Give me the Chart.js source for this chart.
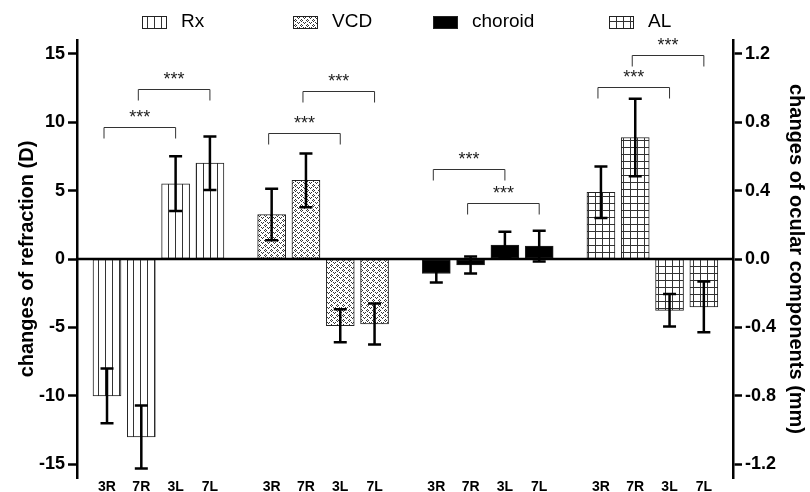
<!DOCTYPE html>
<html>
<head>
<meta charset="utf-8">
<script src="https://cdn.jsdelivr.net/npm/chart.js@4"></script>
<style>
  html, body { margin: 0; padding: 0; background: #fff; }
</style>
</head>
<body>
<canvas id="grafico" width="810" height="492"></canvas>
<script>
// bars in each group
const barLabels = ['3R', '7R', '3L', '7L'];
const seriesNames = ['Rx', 'VCD', 'choroid', 'AL'];

// Rx in D (left axis), the others in mm (right axis)
const rxValues = [-10, -13, 5.5, 7];
const rxSD = [2, 2.3, 2, 1.95];
const vcdValues = [0.26, 0.46, -0.39, -0.38];
const vcdSD = [0.15, 0.157, 0.096, 0.12];
const choroidValues = [-0.085, -0.035, 0.082, 0.075];
const choroidSD = [0.053, 0.05, 0.078, 0.09];
const alValues = [0.39, 0.71, -0.30, -0.28];
const alSD = [0.15, 0.227, 0.095, 0.148];

const leftTicks = [-15, -10, -5, 0, 5, 10, 15];
const rightTicks = [-1.2, -0.8, -0.4, 0, 0.4, 0.8, 1.2];

// *** brackets: [from bar, to bar, height in D on the left axis]
const rxBrackets = [[0, 2, 9.66], [1, 3, 12.44]];
const vcdBrackets = [[0, 2, 9.22], [1, 3, 12.29]];
const choroidBrackets = [[0, 2, 6.58], [1, 3, 4.10]];
const alBrackets = [[0, 2, 12.58], [1, 3, 14.92]];

const FONT = "'Liberation Sans', Arial, sans-serif";
const GROUP_STEP = 4.8;

function pos(g, i) { return g * GROUP_STEP + i; }
function toPoints(g, vals) { return vals.map((v, i) => ({ x: pos(g, i), y: v })); }

const canvas = document.getElementById('grafico');
const ctx = canvas.getContext('2d');

function makePattern(w, h, draw) {
    const c = document.createElement('canvas');
    c.width = w; c.height = h;
    const g = c.getContext('2d');
    g.fillStyle = '#fff';
    g.fillRect(0, 0, w, h);
    g.fillStyle = '#333';
    draw(g);
    return ctx.createPattern(c, 'repeat');
}

const rxPattern = makePattern(7, 1, g => g.fillRect(0, 0, 1, 1));
const vcdPattern = makePattern(6, 5, g => {
    [[0, 0], [2, 0], [1, 1], [3, 2], [5, 2], [4, 3], [1, 4]].forEach(p => g.fillRect(p[0], p[1], 1, 1));
});
const alPattern = makePattern(7, 7, g => {
    g.fillRect(0, 0, 7, 1);
    g.fillRect(0, 0, 1, 7);
});

const positions = [];
for (let g = 0; g < 4; g++) for (let i = 0; i < 4; i++) positions.push(pos(g, i));

const brackets = [rxBrackets, vcdBrackets, choroidBrackets, alBrackets];

const extras = {
    id: 'extras',
    afterDatasetsDraw(chart) {
        const c = chart.ctx;
        const area = chart.chartArea;
        const xs = chart.scales.x;
        const ys = chart.scales.y;
        c.save();
        // zero line
        c.strokeStyle = '#000';
        c.lineWidth = 2.5;
        const y0 = ys.getPixelForValue(0);
        c.beginPath();
        c.moveTo(area.left, y0);
        c.lineTo(area.right, y0);
        c.stroke();

        // error bars
        chart.data.datasets.forEach((ds, k) => {
            const scale = chart.scales[ds.yAxisID];
            chart.getDatasetMeta(k).data.forEach((bar, j) => {
                const v = ds.data[j].y, e = ds.sd[j];
                const hi = scale.getPixelForValue(v + e);
                const lo = scale.getPixelForValue(v - e);
                c.beginPath();
                c.moveTo(bar.x, hi); c.lineTo(bar.x, lo);
                c.moveTo(bar.x - 6.5, hi); c.lineTo(bar.x + 6.5, hi);
                c.moveTo(bar.x - 6.5, lo); c.lineTo(bar.x + 6.5, lo);
                c.stroke();
            });
        });

        // significance brackets
        c.strokeStyle = '#333';
        c.lineWidth = 1;
        c.fillStyle = '#222';
        c.font = '18px ' + FONT;
        c.textAlign = 'center';
        c.textBaseline = 'middle';
        brackets.forEach((list, g) => {
            list.forEach(b => {
                const xa = xs.getPixelForValue(pos(g, b[0])) - 3;
                const xb = xs.getPixelForValue(pos(g, b[1]));
                const y = Math.round(ys.getPixelForValue(b[2])) + 0.5;
                c.beginPath();
                c.moveTo(xa, y + 11); c.lineTo(xa, y); c.lineTo(xb, y); c.lineTo(xb, y + 11);
                c.stroke();
                c.fillText('***', (xa + xb) / 2, y - 9);
            });
        });
        c.restore();
    },
    afterDraw(chart) {
        // legend
        const c = chart.ctx;
        const boxX = [142, 293, 433, 609];
        c.save();
        c.font = '19px ' + FONT;
        c.textBaseline = 'middle';
        c.textAlign = 'left';
        chart.data.datasets.forEach((ds, k) => {
            c.fillStyle = ds.backgroundColor;
            c.fillRect(boxX[k], 16, 25, 13);
            c.strokeStyle = '#222';
            c.lineWidth = 1;
            c.strokeRect(boxX[k] + 0.5, 16.5, 24, 12);
            c.fillStyle = '#000';
            c.fillText(ds.label, boxX[k] + 39, 22);
        });
        c.restore();
    }
};

new Chart(ctx, {
    type: 'bar',
    data: {
        datasets: [
            { label: seriesNames[0], data: toPoints(0, rxValues), sd: rxSD, backgroundColor: rxPattern, yAxisID: 'y' },
            { label: seriesNames[1], data: toPoints(1, vcdValues), sd: vcdSD, backgroundColor: vcdPattern, yAxisID: 'y1' },
            { label: seriesNames[2], data: toPoints(2, choroidValues), sd: choroidSD, backgroundColor: '#000', yAxisID: 'y1' },
            { label: seriesNames[3], data: toPoints(3, alValues), sd: alSD, backgroundColor: alPattern, yAxisID: 'y1' }
        ]
    },
    options: {
        responsive: false,
        animation: false,
        devicePixelRatio: 1,
        grouped: false,
        barThickness: 28,
        borderColor: '#222',
        borderWidth: 1,
        borderSkipped: false,
        layout: { padding: { top: 40, left: 0, right: 0, bottom: 0 } },
        plugins: { legend: { display: false }, tooltip: { enabled: false } },
        scales: {
            x: {
                type: 'linear',
                min: -0.875,
                max: 18.25,
                offset: false,
                afterBuildTicks: s => { s.ticks = positions.map(v => ({ value: v })); },
                afterFit: s => { s.height = 14; },
                ticks: {
                    autoSkip: false,
                    maxRotation: 0,
                    padding: 1,
                    color: '#000',
                    font: { family: FONT, size: 14, weight: 'bold' },
                    callback: (v, i) => barLabels[i % 4]
                },
                grid: { display: false, drawTicks: false },
                border: { display: false }
            },
            y: {
                position: 'left',
                min: -16,
                max: 16,
                afterBuildTicks: s => { s.ticks = leftTicks.map(v => ({ value: v })); },
                afterFit: s => { s.width = 77; },
                ticks: { color: '#000', padding: 3, font: { family: FONT, size: 18, weight: 'bold' } },
                grid: { drawOnChartArea: false, tickLength: 9, tickColor: '#000', tickWidth: 2.5 },
                border: { display: true, color: '#000', width: 2.5 },
                title: {
                    display: true,
                    text: 'changes of refraction (D)',
                    color: '#000',
                    font: { family: FONT, size: 20, weight: 'bold' },
                    padding: { top: 15 }
                }
            },
            y1: {
                position: 'right',
                min: -1.28,
                max: 1.28,
                afterBuildTicks: s => { s.ticks = rightTicks.map(v => ({ value: v })); },
                afterFit: s => { s.width = 77; },
                ticks: {
                    color: '#000', padding: 3,
                    font: { family: FONT, size: 18, weight: 'bold' },
                    callback: v => v.toFixed(1)
                },
                grid: { drawOnChartArea: false, tickLength: 9, tickColor: '#000', tickWidth: 2.5 },
                border: { display: true, color: '#000', width: 2.5 },
                title: {
                    display: true,
                    text: 'changes of ocular components (mm)',
                    color: '#000',
                    font: { family: FONT, size: 20, weight: 'bold' },
                    padding: { top: 2 }
                }
            }
        }
    },
    plugins: [extras]
});
</script>
</body>
</html>
